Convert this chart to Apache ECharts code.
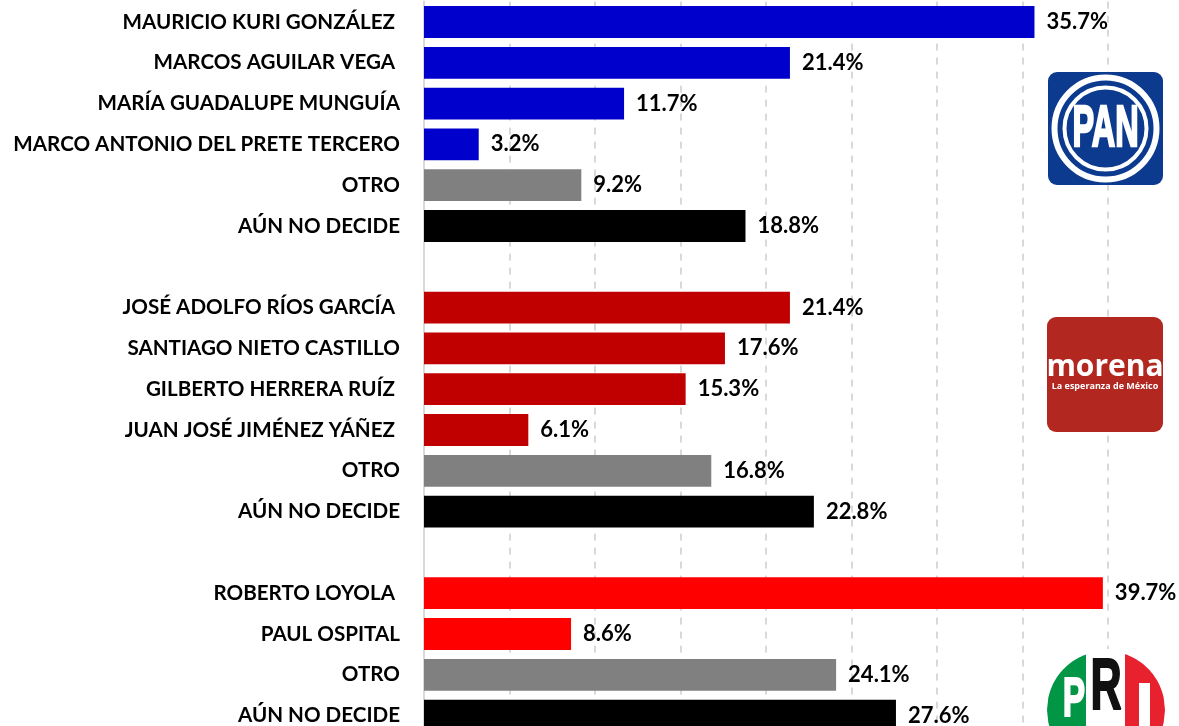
<!DOCTYPE html>
<html>
<head>
<meta charset="utf-8">
<script src="https://cdn.jsdelivr.net/npm/echarts@6/dist/echarts.min.js"></script>
<style>
  html, body { margin: 0; padding: 0; background: #fff; }
  #main { width: 1179px; height: 726px; }
</style>
</head>
<body>
<div id="main"></div>
<script>
var myChart = echarts.init(document.getElementById('main'));

// categorias de arriba hacia abajo ('' = separador entre partidos)
var categories = [
    'MAURICIO KURI GONZÁLEZ ', 'MARCOS AGUILAR VEGA ', 'MARÍA GUADALUPE MUNGUÍA',
    'MARCO ANTONIO DEL PRETE TERCERO', 'OTRO', 'AÚN NO DECIDE', '',
    'JOSÉ ADOLFO RÍOS GARCÍA ', 'SANTIAGO NIETO CASTILLO', 'GILBERTO HERRERA RUÍZ ',
    'JUAN JOSÉ JIMÉNEZ YÁÑEZ ', 'OTRO', 'AÚN NO DECIDE', '',
    'ROBERTO LOYOLA ', 'PAUL OSPITAL', 'OTRO', 'AÚN NO DECIDE'
];
var values = [35.7, 21.4, 11.7, 3.2, 9.2, 18.8, null,
              21.4, 17.6, 15.3, 6.1, 16.8, 22.8, null,
              39.7, 8.6, 24.1, 27.6];
var barColors = ['#0000CC', '#0000CC', '#0000CC', '#0000CC', '#808080', '#000000', '#fff',
                 '#C00000', '#C00000', '#C00000', '#C00000', '#808080', '#000000', '#fff',
                 '#FF0000', '#FF0000', '#808080', '#000000'];

var seriesData = values.map(function (v, i) {
    if (v === null) return '-';
    return { value: v, itemStyle: { color: barColors[i] } };
});

// PRI: segmentos verticales de un circulo
function circleSlice(cx, cy, r, x1, x2) {
    var pts = [];
    var n = 30;
    for (var k = 0; k <= n; k++) {
        var x = x1 + (x2 - x1) * k / n;
        pts.push([x, cy - Math.sqrt(Math.max(0, r * r - (x - cx) * (x - cx)))]);
    }
    for (var k = n; k >= 0; k--) {
        var x = x1 + (x2 - x1) * k / n;
        pts.push([x, cy + Math.sqrt(Math.max(0, r * r - (x - cx) * (x - cx)))]);
    }
    return pts;
}
var priCx = 1106, priCy = 710, priR = 59;

var option = {
    animation: false,
    grid: { left: 424, right: 71, top: 1.6, bottom: -10, outerBoundsMode: 'none' },
    xAxis: {
        type: 'value',
        min: 0,
        max: 40,
        interval: 5,
        axisLabel: { show: false },
        axisLine: { show: false },
        axisTick: { show: false },
        splitLine: { show: true, lineStyle: { color: '#d9d9d9', width: 2, type: [7, 7] } }
    },
    yAxis: {
        type: 'category',
        inverse: true,
        data: categories,
        axisTick: { show: false },
        axisLine: { show: true, lineStyle: { color: '#d9d9d9', width: 2 } },
        axisLabel: {
            margin: 24,
            color: '#000',
            fontFamily: 'Lato',
            fontWeight: 'bold',
            fontSize: 20.6
        }
    },
    series: [{
        type: 'bar',
        data: seriesData,
        barCategoryGap: '22%',
        label: {
            show: true,
            position: 'right',
            distance: 12,
            color: '#000',
            fontFamily: 'Lato',
            fontWeight: 'bold',
            fontSize: 22,
            formatter: function (p) { return p.value.toFixed(1) + '%'; }
        }
    }],
    graphic: [
        // PAN
        { type: 'rect', z: 100, shape: { x: 1048, y: 72, width: 115, height: 113, r: 9 }, style: { fill: '#0b3a8e' } },
        { type: 'circle', z: 100, shape: { cx: 1105.5, cy: 128.5, r: 51 }, style: { fill: 'none', stroke: '#fff', lineWidth: 6 } },
        { type: 'circle', z: 100, shape: { cx: 1105.5, cy: 128.5, r: 41 }, style: { fill: 'none', stroke: '#fff', lineWidth: 4 } },
        { type: 'text', z: 101, x: 1105.5, y: 130, scaleX: 0.56, style: { text: 'PAN', fill: '#fff', stroke: '#fff', lineWidth: 2.5, font: 'bold 58px "Liberation Sans"', align: 'center', verticalAlign: 'middle' } },
        // morena
        { type: 'rect', z: 100, shape: { x: 1047, y: 317, width: 116, height: 115, r: 9 }, style: { fill: '#b2271f' } },
        { type: 'text', z: 101, x: 1105, y: 367, style: { text: 'morena', fill: '#fff', font: 'bold 30px "Open Sans"', align: 'center', verticalAlign: 'middle' } },
        { type: 'text', z: 101, x: 1105, y: 386, style: { text: 'La esperanza de México', fill: '#fff', font: 'bold 9px "Open Sans"', align: 'center', verticalAlign: 'middle' } },
        // PRI
        { type: 'circle', z: 100, shape: { cx: priCx, cy: priCy, r: priR + 2 }, style: { fill: '#fff' } },
        { type: 'polygon', z: 100, shape: { points: circleSlice(priCx, priCy, priR, priCx - priR, 1086) }, style: { fill: '#009645' } },
        { type: 'polygon', z: 100, shape: { points: circleSlice(priCx, priCy, priR, 1125, priCx + priR) }, style: { fill: '#e8212f' } },
        { type: 'text', z: 101, x: 1074, y: 673, scaleX: 0.6, style: { text: 'P', fill: '#fff', stroke: '#fff', lineWidth: 2, font: 'bold 56px "Liberation Sans"', align: 'center', verticalAlign: 'top' } },
        { type: 'text', z: 101, x: 1106, y: 653, scaleX: 0.6, style: { text: 'R', fill: '#111', stroke: '#111', lineWidth: 2, font: 'bold 72px "Liberation Sans"', align: 'center', verticalAlign: 'top' } },
        { type: 'rect', z: 101, shape: { x: 1139, y: 683, width: 11, height: 50 }, style: { fill: '#fff' } }
    ]
};

myChart.setOption(option);
</script>
</body>
</html>
